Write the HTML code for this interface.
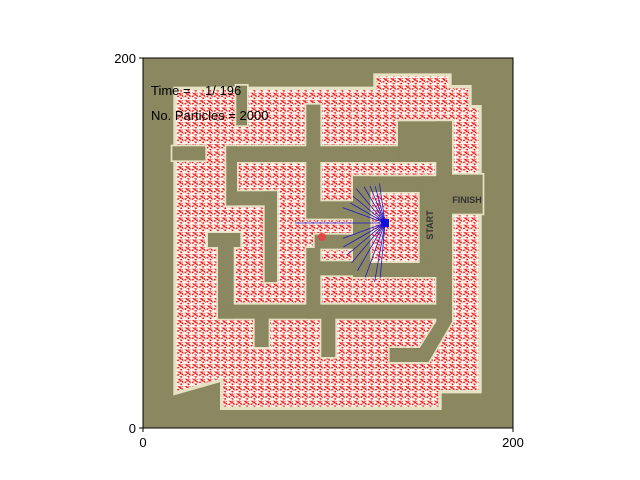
<!DOCTYPE html>
<html><head><meta charset="utf-8"><style>
body{margin:0;background:#fff;width:640px;height:480px;overflow:hidden}
svg{display:block;font-family:"Liberation Sans","DejaVu Sans",sans-serif}
</style></head><body>
<svg width="640" height="480" viewBox="0 0 640 480">
<defs>
<pattern id="pp" width="22" height="22" patternUnits="userSpaceOnUse">
<rect width="22" height="22" fill="#fbfbf4"/>
<g stroke="#f01010" stroke-width="1.8" fill="#f01010">
<line x1="2" y1="3" x2="8" y2="6"/><circle cx="8" cy="6" r="1.8"/>
<line x1="13" y1="2" x2="12" y2="9"/><circle cx="12" cy="9" r="1.8"/>
<line x1="17" y1="12" x2="21" y2="17"/><circle cx="17" cy="12" r="1.8"/>
<line x1="4" y1="14" x2="9" y2="12"/><circle cx="4" cy="14" r="1.8"/>
<line x1="8" y1="18" x2="14" y2="20"/><circle cx="14" cy="20" r="1.8"/>
<line x1="15" y1="6" x2="20" y2="4"/>
</g>
</pattern>
<g id="walls">
<rect x="290" y="93" width="30" height="117"/>
<rect x="98" y="275" width="97" height="40"/>
<rect x="260" y="275" width="240" height="45"/>
<rect x="260" y="275" width="30" height="175"/>
<rect x="260" y="410" width="150" height="40"/>
<rect x="375" y="410" width="35" height="270"/>
<rect x="205" y="535" width="95" height="40"/>
<rect x="235" y="535" width="45" height="255"/>
<rect x="235" y="750" width="655" height="40"/>
<rect x="500" y="150" width="40" height="290"/>
<rect x="500" y="440" width="160" height="50"/>
<rect x="525" y="540" width="135" height="40"/>
<rect x="500" y="580" width="40" height="210"/>
<rect x="540" y="620" width="100" height="40"/>
<rect x="540" y="275" width="350" height="45"/>
<rect x="775" y="200" width="160" height="120"/>
<rect x="640" y="365" width="250" height="45"/>
<rect x="640" y="365" width="50" height="300"/>
<rect x="840" y="365" width="50" height="300"/>
<rect x="640" y="625" width="250" height="40"/>
<rect x="890" y="200" width="45" height="600"/>
<rect x="935" y="360" width="92" height="115"/>
<polygon points="890,800 935,800 865,920 750,920 750,880 840,880"/>
<rect x="545" y="790" width="40" height="115"/>
<rect x="345" y="790" width="40" height="85"/>
</g>
</defs>
<g>
<rect x="143" y="58" width="370" height="370" fill="#8b8760"/>
<g transform="translate(140,55) scale(0.33333)">
<polygon fill="url(#pp)" stroke="#e6e3c4" stroke-width="10" points="105,100 705,100 705,60 930,60 930,95 990,95 990,155 1020,155 1020,1010 900,1010 900,1060 245,1060 245,975 105,1015"/>
<use href="#walls" fill="#e6e3c4" stroke="#e6e3c4" stroke-width="12"/>
<use href="#walls" fill="#8b8760" stroke="#8b8760" stroke-width="2"/>
</g>
<circle cx="322" cy="237" r="4" fill="#e04848"/>
<g id="rays" stroke="#1a1acc" stroke-width="0.8"></g>
<rect x="381" y="219" width="8" height="8" fill="#1010dd"/>
<text x="433" y="225" transform="rotate(-90 433 225)" text-anchor="middle" font-size="9" font-weight="bold" fill="#333">START</text>
<text x="467" y="203" text-anchor="middle" font-size="9" font-weight="bold" fill="#333">FINISH</text>
</g>
<rect x="143" y="58" width="370" height="370" fill="none" stroke="#000" stroke-width="1"/>
<g id="ticks" font-size="13" fill="#000"></g>
<text x="151" y="95" font-size="13" style="white-space:pre">Time =    1/ 196</text>
<text x="151" y="120" font-size="13">No. Particles = 2000</text>
</svg>
<script>
const xTicks=[0,200];
const yTicks=[0,200];
const rayAngles=[180,160,150,140,130,120,112,105,98,200,210,220,230,240,250,260,265];
const rayLengths=[90,45,40,42,45,42,40,38,40,45,48,50,52,55,58,60,55];
const NS='http://www.w3.org/2000/svg';
const sx=v=>143+v/200*370, sy=v=>428-v/200*370;
const rc={x:385,y:223};
const rg=document.getElementById('rays');
rayAngles.forEach((a,i)=>{const l=document.createElementNS(NS,'line');


const r=a*Math.PI/180;l.setAttribute('x1',rc.x);l.setAttribute('y1',rc.y);
l.setAttribute('x2',rc.x+rayLengths[i]*Math.cos(r));l.setAttribute('y2',rc.y-rayLengths[i]*Math.sin(r));rg.appendChild(l);});
const tg=document.getElementById('ticks');
xTicks.forEach(v=>{const t=document.createElementNS(NS,'text');


t.setAttribute('x',sx(v));t.setAttribute('y',447);t.setAttribute('text-anchor','middle');t.textContent=v;tg.appendChild(t);
const m=document.createElementNS(NS,'line');


m.setAttribute('x1',sx(v));m.setAttribute('x2',sx(v));m.setAttribute('y1',428);m.setAttribute('y2',432);m.setAttribute('stroke','#000');tg.appendChild(m);});
yTicks.forEach(v=>{const t=document.createElementNS(NS,'text');


t.setAttribute('x',136);t.setAttribute('y',sy(v)+5);t.setAttribute('text-anchor','end');t.textContent=v;tg.appendChild(t);
const m=document.createElementNS(NS,'line');


m.setAttribute('x1',139);m.setAttribute('x2',143);m.setAttribute('y1',sy(v));m.setAttribute('y2',sy(v));m.setAttribute('stroke','#000');tg.appendChild(m);});
</script>
</body></html>
